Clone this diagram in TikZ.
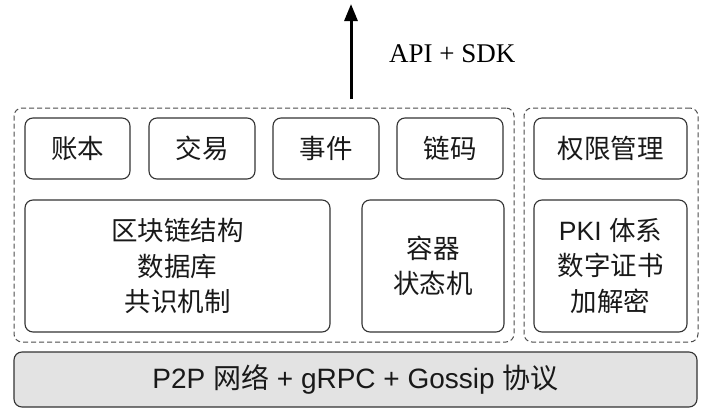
\documentclass[tikz,border=0pt]{standalone}
\usepackage{fontspec}
\setmainfont{Liberation Sans}
\newfontfamily\cjk{Noto Sans CJK SC}
\newfontfamily\serifapi{Liberation Serif}
\usetikzlibrary{arrows.meta}
\newcommand{\zh}[1]{{\cjk #1}}
\begin{document}
\begin{tikzpicture}[x=1pt,y=-1pt,
  box/.style={draw=black!80, line width=1.1pt, rounded corners=8pt, fill=white,
    align=center, inner sep=0pt, text=black!90, font=\fontsize{26.5}{35.5}\selectfont},
  group/.style={draw=black!70, dash pattern=on 5pt off 3pt, line width=1pt, rounded corners=8pt, inner sep=0pt},
  base/.style={draw=black!80, line width=1.1pt, rounded corners=8pt, fill=black!11,
    align=center, inner sep=0pt, text=black!90, font=\fontsize{28}{32}\selectfont},
  uparrow/.style={line width=3pt, -{Triangle[width=13pt,length=17pt]}}
]
\useasboundingbox (0,0) rectangle (710,418);
% dashed groups
\node[group, minimum width=500pt, minimum height=234pt] (gl) at (264,225) {};
\node[group, minimum width=174pt, minimum height=234pt] (gr) at (611,225) {};
% top row
\node[box, minimum width=105pt, minimum height=61pt] (ledger) at (77.5,148.5) {\zh{账本}};
\node[box, minimum width=106pt, minimum height=61pt] (tx) at (202,148.5) {\zh{交易}};
\node[box, minimum width=106pt, minimum height=61pt] (event) at (326,148.5) {\zh{事件}};
\node[box, minimum width=106pt, minimum height=61pt] (cc) at (450,148.5) {\zh{链码}};
\node[box, minimum width=153pt, minimum height=61pt] (perm) at (610.5,148.5) {\zh{权限管理}};
% second row
\node[box, minimum width=305pt, minimum height=132pt] (chain) at (177.5,266) {\zh{区块链结构}\\\zh{数据库}\\\zh{共识机制}};
\node[box, minimum width=142pt, minimum height=132pt] (ctr) at (433,266) {\zh{容器}\\\zh{状态机}};
\node[box, minimum width=153pt, minimum height=132pt] (pki) at (610.5,266) {PKI \zh{体系}\\\zh{数字证书}\\\zh{加解密}};
% bottom
\node[base, minimum width=683pt, minimum height=55pt] (net) at (355.5,379.5) {P2P \zh{网络} + gRPC + Gossip \zh{协议}};
% arrow
\coordinate (apibase) at (351,99);
\coordinate (apitip) at (351,4);
\draw[uparrow] (apibase) -- (apitip);
\node[font=\serifapi\fontsize{27}{30}\selectfont, anchor=west, inner sep=0pt] (api) at (389,54) {API + SDK};
\end{tikzpicture}
\end{document}
